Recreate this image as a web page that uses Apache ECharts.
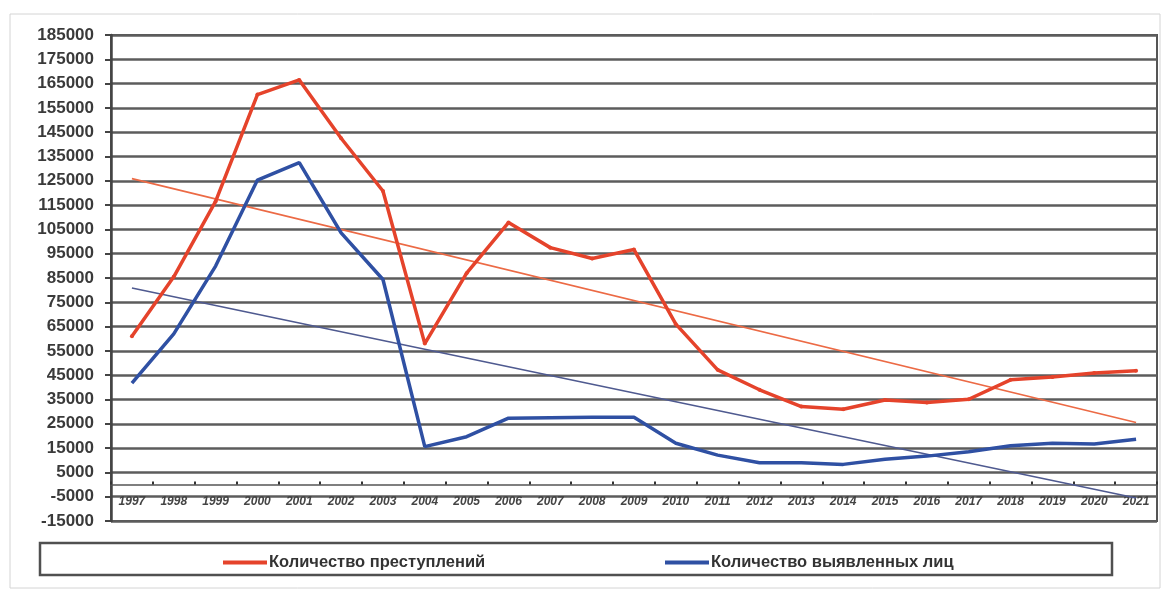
<!DOCTYPE html>
<html>
<head>
<meta charset="utf-8">
<script src="https://cdn.jsdelivr.net/npm/echarts@6/dist/echarts.min.js"></script>
<style>
html,body{margin:0;padding:0;background:#fff;}
#c{width:1163px;height:591px;}
</style>
</head>
<body>
<div id="c"></div>
<script>
const years = ['1997','1998','1999','2000','2001','2002','2003','2004','2005','2006','2007','2008','2009','2010','2011','2012','2013','2014','2015','2016','2017','2018','2019','2020','2021'];
const crimes = [61000, 85500, 116500, 160500, 166500, 142500, 120800, 58000, 87000, 107800, 97500, 93000, 96700, 66000, 47200, 39000, 32100, 31000, 34800, 33800, 35100, 43100, 44300, 45900, 46800];
const persons = [41700, 62000, 89900, 125300, 132500, 103600, 84400, 15600, 19700, 27300, 27500, 27700, 27700, 17000, 12100, 9000, 9000, 8300, 10400, 11700, 13500, 16000, 17000, 16700, 18600];
const crimesTrendEnds = [125900, 25500];
const personsTrendEnds = [80900, -5500];
const nameCrimes = 'Количество преступлений';
const namePersons = 'Количество выявленных лиц';
const yMin = -15000, yMax = 185000, yStep = 10000;

const chart = echarts.init(document.getElementById('c'));
const gridColor = '#5c5c5c';
const font = 'Liberation Sans, Arial, sans-serif';
const legendText = {fontFamily: font, fontSize: 16.5, fontWeight: 'bold', color: '#333', padding: [0,0,0,-3]};
chart.setOption({
  animation: false,
  backgroundColor: '#fff',
  grid: {left: 111, right: 6, top: 35, bottom: 70, show: true, borderColor: '#555', borderWidth: 2, backgroundColor: '#fff'},
  graphic: [
    {type: 'rect', shape: {x: 10, y: 14, width: 1150, height: 574}, style: {fill: 'none', stroke: '#d4d4d4', lineWidth: 1}, z: -1},
    {type: 'rect', shape: {x: 40, y: 543, width: 1072, height: 32}, style: {fill: '#fff', stroke: '#505050', lineWidth: 2.5}, z: 0}
  ],
  legend: [
    {data: [{name: nameCrimes, icon: 'rect'}], left: 218, top: 549, itemWidth: 44, itemHeight: 4, z: 5, textStyle: legendText},
    {data: [{name: namePersons, icon: 'rect'}], left: 660, top: 549, itemWidth: 44, itemHeight: 4, z: 5, textStyle: legendText}
  ],
  xAxis: [
    {type: 'category', data: years, boundaryGap: true, position: 'bottom',
     axisLine: {onZero: true, lineStyle: {color: '#555', width: 1.5}},
     axisTick: {show: true, length: 3, inside: true, lineStyle: {color: '#333', width: 2}},
     axisLabel: {show: false}, splitLine: {show: false}},
    {type: 'category', data: years, boundaryGap: true, position: 'bottom',
     axisLine: {show: false, onZero: false}, axisTick: {show: false},
     axisLabel: {inside: true, margin: 13, fontFamily: font, fontSize: 12, fontWeight: 'bold', fontStyle: 'italic', color: '#444', interval: 0},
     splitLine: {show: false}}
  ],
  yAxis: {
    type: 'value', min: yMin, max: yMax, interval: yStep,
    axisLine: {show: true, onZero: false, lineStyle: {color: '#444', width: 2.5}},
    axisTick: {show: true, length: 6, lineStyle: {color: '#444', width: 2}},
    axisLabel: {margin: 17, fontFamily: font, fontSize: 17, fontWeight: 'bold', color: '#3a3a3a', formatter: v => String(v)},
    splitLine: {show: true, lineStyle: {color: gridColor, width: 2.5}}
  },
  series: [
    {name: 'crimesTrend', type: 'line', xAxisIndex: 0, data: [[years[0], crimesTrendEnds[0]], [years[years.length-1], crimesTrendEnds[1]]],
     symbol: 'none', lineStyle: {color: '#ec6a45', width: 1.6}, z: 2, silent: true},
    {name: 'personsTrend', type: 'line', xAxisIndex: 0, data: [[years[0], personsTrendEnds[0]], [years[years.length-1], personsTrendEnds[1]]],
     symbol: 'none', lineStyle: {color: '#4f5a90', width: 1.6}, z: 2, silent: true},
    {name: nameCrimes, type: 'line', xAxisIndex: 0, data: crimes, symbol: 'circle', symbolSize: 4,
     itemStyle: {color: '#e5432b'}, lineStyle: {color: '#e5432b', width: 3.5}, z: 3},
    {name: namePersons, type: 'line', xAxisIndex: 0, data: persons, symbol: 'none', showSymbol: false,
     itemStyle: {color: '#2f50a3'}, lineStyle: {color: '#2f50a3', width: 3.5}, z: 3}
  ]
});
</script>
</body>
</html>
